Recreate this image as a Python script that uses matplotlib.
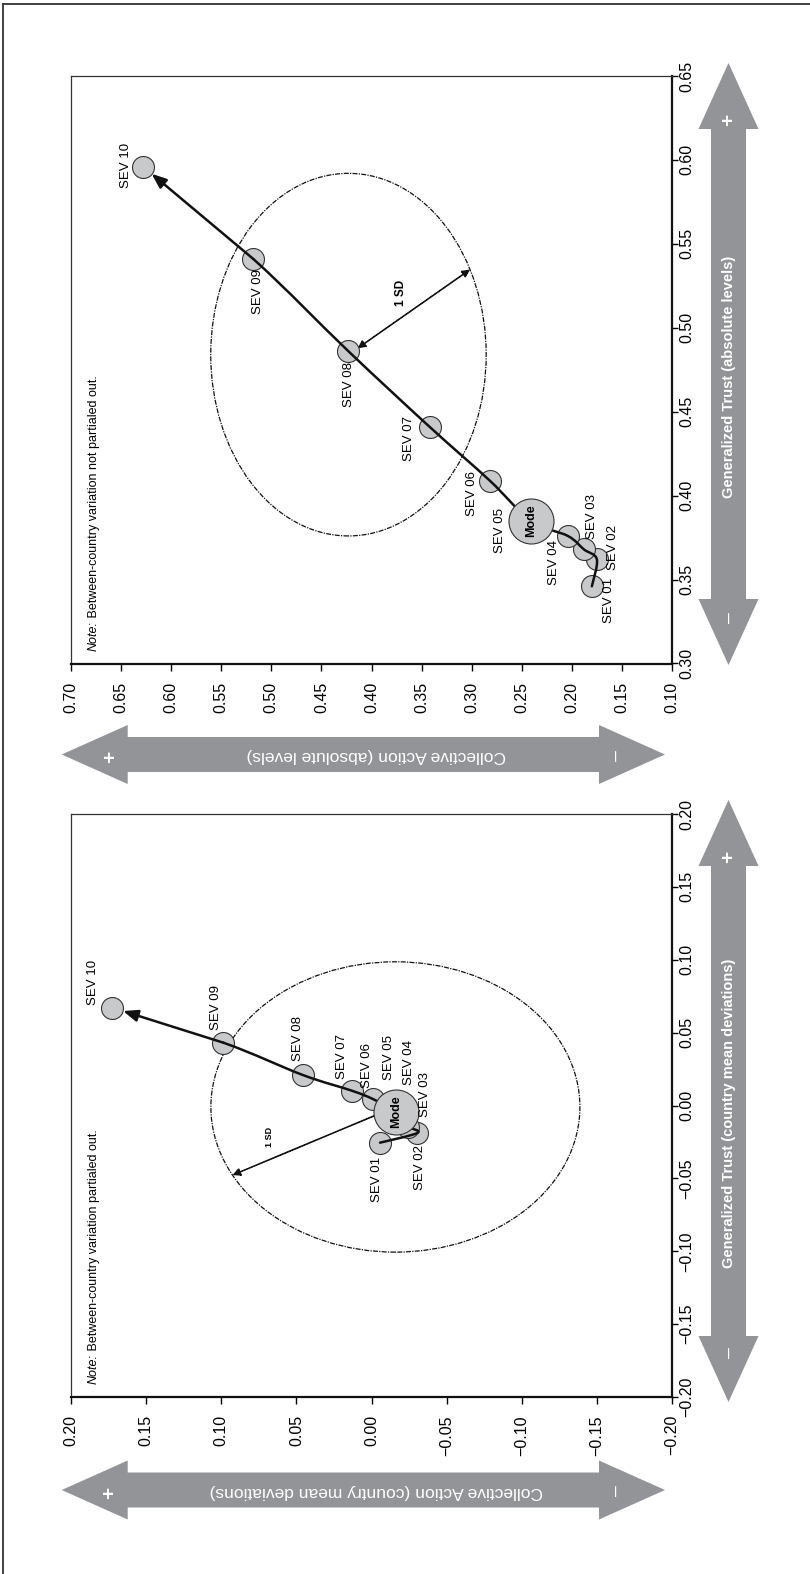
import numpy as np
import matplotlib
matplotlib.use("Agg")
import matplotlib.pyplot as plt
from matplotlib.patches import Ellipse, Polygon, FancyArrowPatch, PathPatch
from matplotlib.path import Path
from matplotlib.lines import Line2D
from matplotlib.ticker import FuncFormatter, MultipleLocator

plt.rcParams['font.family'] = ['Liberation Sans', 'DejaVu Sans']

# ---------------------------------------------------------------- data
categories = ["SEV 01", "SEV 02", "SEV 03", "SEV 04", "SEV 05",
              "SEV 06", "SEV 07", "SEV 08", "SEV 09", "SEV 10"]
mode_index = 4  # SEV 05 is the modal category

# absolute levels
abs_trust = [0.346, 0.362, 0.368, 0.376, 0.385, 0.409, 0.441, 0.486, 0.541, 0.596]
abs_action = [0.180, 0.175, 0.188, 0.204, 0.241, 0.282, 0.342, 0.423, 0.518, 0.628]
abs_sd_center = (0.423, 0.484)      # (action, trust)
abs_sd_radius = (0.1375, 0.108)     # (action, trust)

# country mean deviations
dev_trust = [-0.0255, -0.0188, -0.0147, -0.0099, -0.0042, 0.0043, 0.0102, 0.0210, 0.0431, 0.0671]
dev_action = [-0.0057, -0.0306, -0.0246, -0.0216, -0.0163, -0.0012, 0.0132, 0.0459, 0.0986, 0.1724]
dev_sd_center = (-0.0159, -0.001)
dev_sd_radius = (0.1228, 0.0996)

abs_action_ticks = [0.70, 0.10]
abs_trust_ticks = [0.30, 0.65]
dev_action_ticks = [0.20, -0.20]
dev_trust_ticks = [-0.20, 0.20]

# ---------------------------------------------------------------- layout
W, H = 810, 1574
fig = plt.figure(figsize=(W / 100, H / 100), dpi=100)
fig.patch.set_facecolor("white")

GREY = "#939498"
MARK = "#c8c9cb"


def box(l, t, r, b):
    return [l / W, 1 - b / H, (r - l) / W, (b - t) / H]


def fx(x):
    return x / W


def fy(y):
    return 1 - y / H


def fmt(v, pos):
    v = round(v, 2)
    if abs(v) < 1e-9:
        v = 0.0
    s = f"{abs(v):.2f}"
    return ("\u2212" if v < 0 else "") + s


def smooth_path(xs, ys, upto):
    P = np.column_stack([xs, ys])
    n = len(P)
    verts = [P[0]]
    codes = [Path.MOVETO]
    for i in range(upto):
        p0 = P[max(i - 1, 0)]
        p1 = P[i]
        p2 = P[i + 1]
        p3 = P[min(i + 2, n - 1)]
        verts += [p1 + (p2 - p0) / 6, p2 - (p3 - p1) / 6, p2]
        codes += [Path.CURVE4] * 3
    return Path(verts, codes)


def draw_panel(ax, action, trust, xlim, ylim, sd_center, sd_radius, sd_angle,
               sd_double, offsets, note, sd_text_xy, sd_fs):
    ax.set_xlim(*xlim)
    ax.set_ylim(*ylim)
    ax.xaxis.set_major_locator(MultipleLocator(0.05))
    ax.yaxis.set_major_locator(MultipleLocator(0.05))
    ax.xaxis.set_major_formatter(FuncFormatter(fmt))
    ax.yaxis.set_major_formatter(FuncFormatter(fmt))
    ax.yaxis.tick_right()
    ax.tick_params(axis="x", direction="out", length=5, width=1, pad=8,
                   labelsize=11.5, labelrotation=90)
    ax.tick_params(axis="y", direction="out", length=4, width=1, pad=1,
                   labelsize=11.5, labelrotation=90)
    for lab in ax.get_yticklabels():
        lab.set_va("center")
        lab.set_ha("left")
    for lab in ax.get_xticklabels():
        lab.set_ha("center")
        lab.set_va("top")
    for side in ("bottom", "right"):
        ax.spines[side].set_linewidth(1.6)
        ax.spines[side].set_color("#111111")
    for side in ("top", "left"):
        ax.spines[side].set_linewidth(0.9)
        ax.spines[side].set_color("#333333")

    # 1 SD ellipse
    ax.add_patch(Ellipse(sd_center, 2 * sd_radius[0], 2 * sd_radius[1],
                         fill=False, ec="#111111", lw=0.9,
                         ls=(0, (4, 1, 1, 1)), zorder=1))
    t = np.deg2rad(sd_angle)
    sd_end = (sd_center[0] + sd_radius[0] * np.cos(t),
              sd_center[1] + sd_radius[1] * np.sin(t))
    ax.add_patch(FancyArrowPatch(sd_center, sd_end,
                                 arrowstyle="<|-|>" if sd_double else "-|>",
                                 mutation_scale=11, lw=1.2, ls=(0, (1, 0.6)),
                                 color="#111111", shrinkA=8 if sd_double else 0,
                                 shrinkB=0, zorder=2))
    ax.text(*sd_text_xy, "1 SD", rotation=90, ha="center", va="center",
            fontsize=sd_fs, weight="bold", zorder=6)

    # category markers
    small = [i for i in range(len(action)) if i != mode_index]
    ax.scatter([action[i] for i in small], [trust[i] for i in small], s=250,
               facecolor=MARK, edgecolor="#333333", lw=0.8, zorder=3)
    ax.scatter([action[mode_index]], [trust[mode_index]], s=250,
               facecolor=MARK, edgecolor="#333333", lw=0.8, zorder=3)

    # trajectory
    n = len(action)
    path = smooth_path(action, trust, n - 2)
    ax.add_patch(PathPatch(path, fill=False, lw=1.8, ec="#111111",
                           capstyle="round", joinstyle="round", zorder=4))
    ax.add_patch(FancyArrowPatch((action[n - 2], trust[n - 2]),
                                 (action[n - 1], trust[n - 1]),
                                 arrowstyle="-|>,head_length=0.55,head_width=0.22",
                                 mutation_scale=16, lw=1.8, color="#111111",
                                 shrinkA=0, shrinkB=8, zorder=4))

    # mode
    ax.scatter([action[mode_index]], [trust[mode_index]], s=1050,
               facecolor=MARK, edgecolor="#333333", lw=0.8, zorder=5)
    ax.text(action[mode_index], trust[mode_index], "Mode", rotation=90,
            ha="center", va="center", fontsize=9, weight="bold", zorder=6)

    for i, cat in enumerate(categories):
        dx, dy = offsets[i]
        ax.annotate(cat, (action[i], trust[i]), xytext=(dx, -dy),
                    textcoords="offset pixels", rotation=90, ha="center",
                    va="center", fontsize=9.5, zorder=6)

    # note
    t1 = ax.text(0.038, 0.022, "Note:", transform=ax.transAxes, rotation=90,
                 ha="center", va="bottom", fontsize=9, style="italic")
    ax.annotate(" " + note, xy=(0.5, 1.0), xycoords=t1, rotation=90,
                ha="center", va="bottom", fontsize=9)


ax_abs = fig.add_axes(box(71, 76, 672, 663.5))
ax_dev = fig.add_axes(box(71, 814, 672, 1397))

abs_offsets = [(17, 14), (16, -12), (8, -33), (-14, 27), (-31, 10),
               (-18, 13), (-21, 12), (1, 33), (5, 33), (-17, -1)]
dev_offsets = [(-3, 37), (2.5, 35), (16.5, -32), (5, -57), (-7, -54),
               (-6, -34), (-10, -34), (-5, -36), (-7, -35), (-19, -25)]

draw_panel(ax_abs, abs_action, abs_trust, abs_action_ticks, abs_trust_ticks,
           abs_sd_center, abs_sd_radius, 152, True, abs_offsets,
           "Between-country variation not partialed out.", (0.3706, 0.5205), 8.5)
draw_panel(ax_dev, dev_action, dev_trust, dev_action_ticks, dev_trust_ticks,
           dev_sd_center, dev_sd_radius, -28, False, dev_offsets,
           "Between-country variation partialed out.", (0.0682, -0.0216), 6.5)


# ---------------------------------------------------------------- grey direction arrows
def v_arrow(xc, y_top, y_bot, head_len=66, head_half=30, shaft_half=17.5):
    pts = [(xc, y_top), (xc + head_half, y_top + head_len),
           (xc + shaft_half, y_top + head_len), (xc + shaft_half, y_bot - head_len),
           (xc + head_half, y_bot - head_len), (xc, y_bot),
           (xc - head_half, y_bot - head_len), (xc - shaft_half, y_bot - head_len),
           (xc - shaft_half, y_top + head_len), (xc - head_half, y_top + head_len)]
    fig.add_artist(Polygon([(fx(x), fy(y)) for x, y in pts], closed=True,
                           transform=fig.transFigure, fc=GREY, ec="none"))


def h_arrow(yc, x_left, x_right, head_len=66, head_half=29.5, shaft_half=17.5):
    pts = [(x_left, yc), (x_left + head_len, yc - head_half),
           (x_left + head_len, yc - shaft_half), (x_right - head_len, yc - shaft_half),
           (x_right - head_len, yc - head_half), (x_right, yc),
           (x_right - head_len, yc + head_half), (x_right - head_len, yc + shaft_half),
           (x_left + head_len, yc + shaft_half), (x_left + head_len, yc + head_half)]
    fig.add_artist(Polygon([(fx(x), fy(y)) for x, y in pts], closed=True,
                           transform=fig.transFigure, fc=GREY, ec="none"))


def ftext(x, y, s, rot, **kw):
    fig.text(fx(x), fy(y), s, rotation=rot, ha="center", va="center",
             color="white", **kw)


# trust arrows (right)
v_arrow(728.5, 63, 665)
ftext(729, 377, "Generalized Trust (absolute levels)", 90, fontsize=10.5, weight="bold")
ftext(729, 120, "+", 90, fontsize=15, weight="bold")
ftext(729, 618, "\u2013", 90, fontsize=14)

v_arrow(728.5, 800, 1402)
ftext(729, 1113, "Generalized Trust (country mean deviations)", 90, fontsize=10.5, weight="bold")
ftext(729, 857, "+", 90, fontsize=15, weight="bold")
ftext(729, 1353, "\u2013", 90, fontsize=14)

# collective action arrows (left)
h_arrow(754.5, 61.7, 665)
ftext(376, 756, "Collective Action (absolute levels)", 180, fontsize=12.5)
ftext(111, 757, "+", 90, fontsize=15, weight="bold")
ftext(616, 755, "\u2013", 90, fontsize=14)

h_arrow(1490, 61.7, 665)
ftext(376, 1491, "Collective Action (country mean deviations)", 180, fontsize=12.5)
ftext(110, 1493, "+", 90, fontsize=15, weight="bold")
ftext(616, 1491, "\u2013", 90, fontsize=14)

# page rules
fig.add_artist(Line2D([fx(3.5), 1.0], [fy(3.5), fy(3.5)], transform=fig.transFigure,
                      color="#333333", lw=1.3))
fig.add_artist(Line2D([fx(3.5), fx(3.5)], [0.0, fy(3.5)], transform=fig.transFigure,
                      color="#333333", lw=1.3))

fig.savefig("out.png", dpi=100, facecolor="white")
